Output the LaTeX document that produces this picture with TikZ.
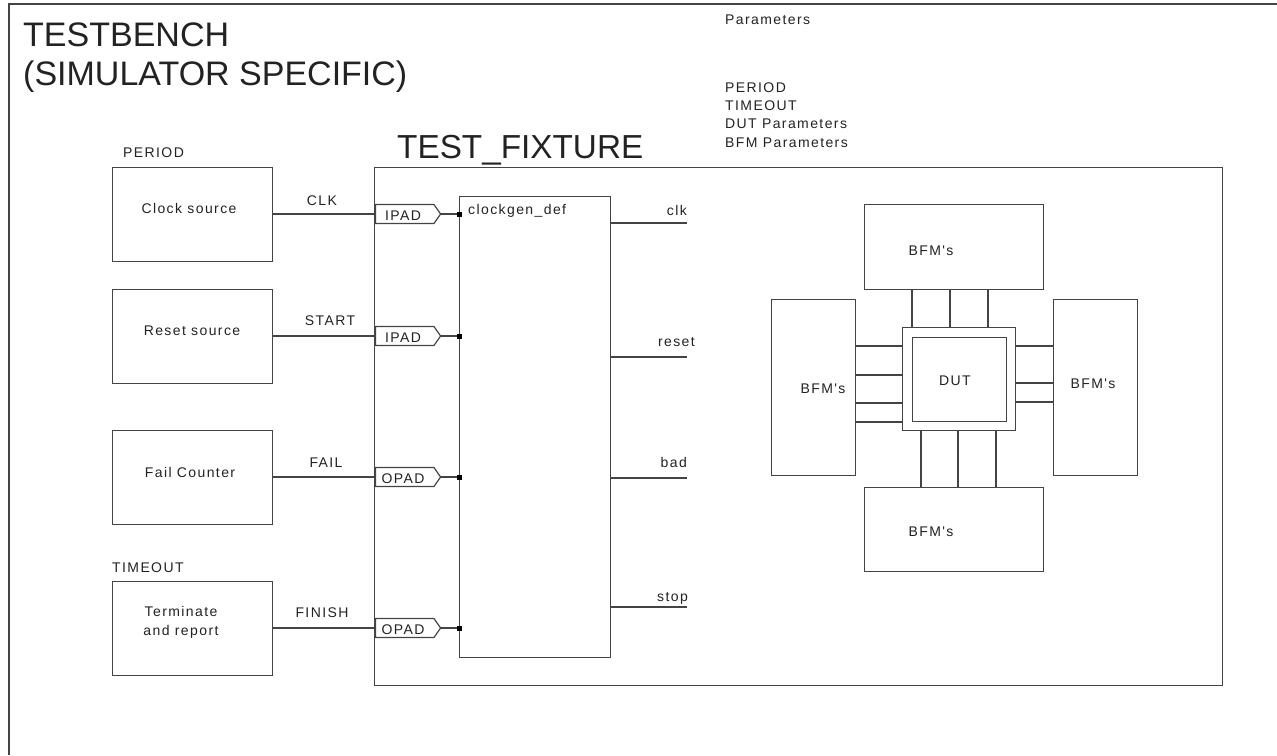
\documentclass[tikz,border=0pt]{standalone}
\usepackage{fontspec}
\setmainfont{Liberation Sans}
\newfontfamily\smfont[LetterSpace=10]{Liberation Sans}
\usetikzlibrary{shapes.symbols}
\definecolor{lc}{HTML}{444444}
\definecolor{tc}{HTML}{222222}
\tikzset{
  box/.style={draw=lc, line width=1.2pt, rectangle, inner sep=0pt, anchor=north west},
  wire/.style={draw=lc, line width=1.2pt},
  sm/.style={font=\smfont\fontsize{14}{16}\selectfont, text=tc, inner sep=0pt},
  big/.style={font=\fontsize{34}{40}\selectfont, text=tc, inner sep=0pt},
  pad/.style={draw=lc, line width=1.2pt, shape=signal, signal to=east, signal pointer angle=110,
    minimum width=65pt, minimum height=19pt, inner sep=0pt, anchor=west},
  sq/.style={fill=black, minimum size=5pt, inner sep=0pt},
}
\begin{document}
\begin{tikzpicture}[x=1pt, y=-1pt]
\useasboundingbox (0,0) rectangle (1277,755);
% outer frame
\coordinate (fr0) at (9,755);
\coordinate (fr1) at (9,4);
\coordinate (fr2) at (1277,4);
\draw[wire] (fr0) -- (fr1) -- (fr2);
% titles
\node[big, anchor=base west] (t1) at (23,46) {TESTBENCH};
\node[big, anchor=base west] (t2) at (23,85) {(SIMULATOR SPECIFIC)};
\node[big, font=\fontsize{33.3}{40}\selectfont, anchor=base west] (t3) at (397,158) {TEST\_FIXTURE};
% parameters
\node[sm, anchor=base west] (p0) at (725,24) {Parameters};
\node[sm, anchor=base west] (p1) at (725,92) {PERIOD};
\node[sm, anchor=base west] (p2) at (725,110) {TIMEOUT};
\node[sm, anchor=base west] (p3) at (725,128) {DUT Parameters};
\node[sm, anchor=base west] (p4) at (725,147) {BFM Parameters};
% fixture
\node[box, minimum width=848pt, minimum height=518pt] (fix) at (374,167) {};
\node[box, minimum width=151pt, minimum height=461pt] (cg) at (459,196) {};
\node[sm, anchor=base west] (cgl) at (468,214) {clockgen\_def};
% sources
\node[box, minimum width=160pt, minimum height=94pt] (s1) at (112,167) {};
\node[box, minimum width=160pt, minimum height=94pt] (s2) at (112,289) {};
\node[box, minimum width=160pt, minimum height=94pt] (s3) at (112,430) {};
\node[box, minimum width=160pt, minimum height=94pt] (s4) at (112,581) {};
\node[sm, anchor=base west] (lper) at (123,157) {PERIOD};
\node[sm, anchor=base west] (ltim) at (112,572) {TIMEOUT};
\node[sm, anchor=base] (s1t) at (189,213.5) {Clock source};
\node[sm, anchor=base] (s2t) at (192,335) {Reset source};
\node[sm, anchor=base] (s3t) at (190,477) {Fail Counter};
\node[sm, anchor=base] (s4t) at (181,616) {Terminate};
\node[sm, anchor=base] (s4u) at (181,635) {and report};
% pads
\node[pad] (pd1) at (375,214) {};
\node[pad] (pd2) at (375,336) {};
\node[pad] (pd3) at (375,477) {};
\node[pad] (pd4) at (375,628) {};
\node[sm, anchor=base] (pd1t) at (403,220) {IPAD};
\node[sm, anchor=base] (pd2t) at (403,342) {IPAD};
\node[sm, anchor=base] (pd3t) at (403,483) {OPAD};
\node[sm, anchor=base] (pd4t) at (403,634) {OPAD};
% input wires
\draw[wire] (pd1.west -| s1.east) -- (pd1.west);
\draw[wire] (pd2.west -| s2.east) -- (pd2.west);
\draw[wire] (pd3.west -| s3.east) -- (pd3.west);
\draw[wire] (pd4.west -| s4.east) -- (pd4.west);
\node[sm, anchor=base] (w1) at (322,205) {CLK};
\node[sm, anchor=base] (w2) at (330,325) {START};
\node[sm, anchor=base] (w3) at (326,467) {FAIL};
\node[sm, anchor=base] (w4) at (322,617) {FINISH};
\draw[wire, line width=2pt] (pd1.east) -- (pd1.east -| cg.west);
\draw[wire] (pd2.east) -- (pd2.east -| cg.west);
\draw[wire] (pd3.east) -- (pd3.east -| cg.west);
\draw[wire] (pd4.east) -- (pd4.east -| cg.west);
\node[sq] (q1) at (pd1.east -| cg.west) {};
\node[sq] (q2) at (pd2.east -| cg.west) {};
\node[sq] (q3) at (pd3.east -| cg.west) {};
\node[sq] (q4) at (pd4.east -| cg.west) {};
% outputs
\coordinate (o1) at (687,223);
\coordinate (o2) at (687,357);
\coordinate (o3) at (687,478);
\coordinate (o4) at (687,607);
\draw[wire] (o1 -| cg.east) -- (o1);
\draw[wire] (o2 -| cg.east) -- (o2);
\draw[wire] (o3 -| cg.east) -- (o3);
\draw[wire] (o4 -| cg.east) -- (o4);
\node[sm, anchor=base east] (ol1) at (687,215) {clk};
\node[sm, anchor=base east] (ol2) at (695,346) {reset};
\node[sm, anchor=base east] (ol3) at (687,467) {bad};
\node[sm, anchor=base east] (ol4) at (688,601) {stop};
% BFMs
\node[box, minimum width=179pt, minimum height=85pt] (bT) at (864,204) {};
\node[box, minimum width=179pt, minimum height=84pt] (bB) at (864,487) {};
\node[box, minimum width=84pt, minimum height=176pt] (bL) at (771,299) {};
\node[box, minimum width=84pt, minimum height=176pt] (bR) at (1053,299) {};
\node[sm, anchor=base] (bTt) at (931,255) {BFM's};
\node[sm, anchor=base] (bBt) at (931,536) {BFM's};
\node[sm, anchor=base] (bLt) at (823,393) {BFM's};
\node[sm, anchor=base] (bRt) at (1093,388) {BFM's};
\node[box, minimum width=113pt, minimum height=103pt] (dO) at (902,327) {};
\node[box, minimum width=94pt, minimum height=84pt] (dI) at (912,337) {};
\node[sm, anchor=base] (dt) at (955,385) {DUT};
% DUT connections
\foreach \x in {912,950,988} \draw[wire] (\x,0 |- bT.south) -- (\x,0 |- dO.north);
\foreach \x in {921,958,996} \draw[wire] (\x,0 |- dO.south) -- (\x,0 |- bB.north);
\foreach \y in {346,375,403,422} \draw[wire] (0,\y -| bL.east) -- (0,\y -| dO.west);
\foreach \y in {346,383,402} \draw[wire] (0,\y -| dO.east) -- (0,\y -| bR.west);
\end{tikzpicture}
\end{document}
